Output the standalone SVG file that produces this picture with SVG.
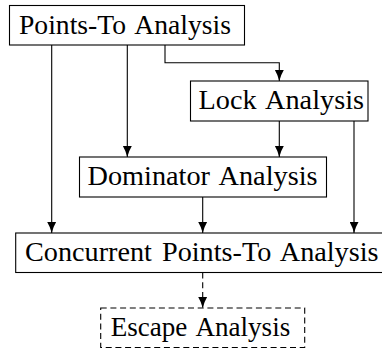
<svg xmlns="http://www.w3.org/2000/svg" width="382" height="350" viewBox="0 0 382 350">
  <style>
    .box { fill: #ffffff; stroke: #000000; stroke-width: 1.1; }
    .dashed { stroke-dasharray: 6 3.7; }
    .label { font-size: 28px; word-spacing: 3px; fill: #000000; }
    .edge { fill: none; stroke: #000000; stroke-width: 1.1; marker-end: url(#arrow); }
  </style>
  <defs>
    <marker id="arrow" markerUnits="userSpaceOnUse" viewBox="0 0 11 9" refX="11" refY="4.5" markerWidth="11" markerHeight="9" orient="auto">
      <path d="M0,0 Q5,3 11,4.5 Q5,6 0,9 Z" fill="#000000"/>
    </marker>
  </defs>

  <rect width="382" height="350" fill="#ffffff"/>

  <!-- connectors -->
  <g id="edges">
    <path class="edge" d="M51.7,45 V233"/>
    <path class="edge" d="M127.3,45 V157"/>
    <path class="edge" d="M165,45 V62.7 H279.3 V81"/>
    <path class="edge" d="M279.3,121 V157"/>
    <path class="edge" d="M354,121 V233"/>
    <path class="edge" d="M202.7,197 V233"/>
    <path class="edge dashed" d="M202.7,272.5 V308"/>
  </g>

  <!-- nodes -->
  <g id="nodes" font-family="Liberation Serif, Times New Roman, serif">
    <g id="points-to">
      <rect class="box" x="9.5" y="5.5" width="235" height="39.5"/>
      <text class="label" x="19" y="33.5" textLength="212" lengthAdjust="spacingAndGlyphs">Points-To Analysis</text>
    </g>
    <g id="lock">
      <rect class="box" x="190.5" y="81" width="177.5" height="40"/>
      <text class="label" x="198.5" y="109" textLength="165.5" lengthAdjust="spacingAndGlyphs">Lock Analysis</text>
    </g>
    <g id="dominator">
      <rect class="box" x="79.5" y="157" width="247" height="40"/>
      <text class="label" x="87.5" y="185" textLength="230" lengthAdjust="spacingAndGlyphs">Dominator Analysis</text>
    </g>
    <g id="concurrent">
      <rect class="box" x="15.7" y="233" width="380" height="39.5"/>
      <text class="label" x="25" y="261" textLength="353.5" lengthAdjust="spacingAndGlyphs">Concurrent Points-To Analysis</text>
    </g>
    <g id="escape">
      <rect class="box dashed" x="100.7" y="308" width="204" height="39.5"/>
      <text class="label" x="110.7" y="336" textLength="179.5" lengthAdjust="spacingAndGlyphs">Escape Analysis</text>
    </g>
  </g>
</svg>
